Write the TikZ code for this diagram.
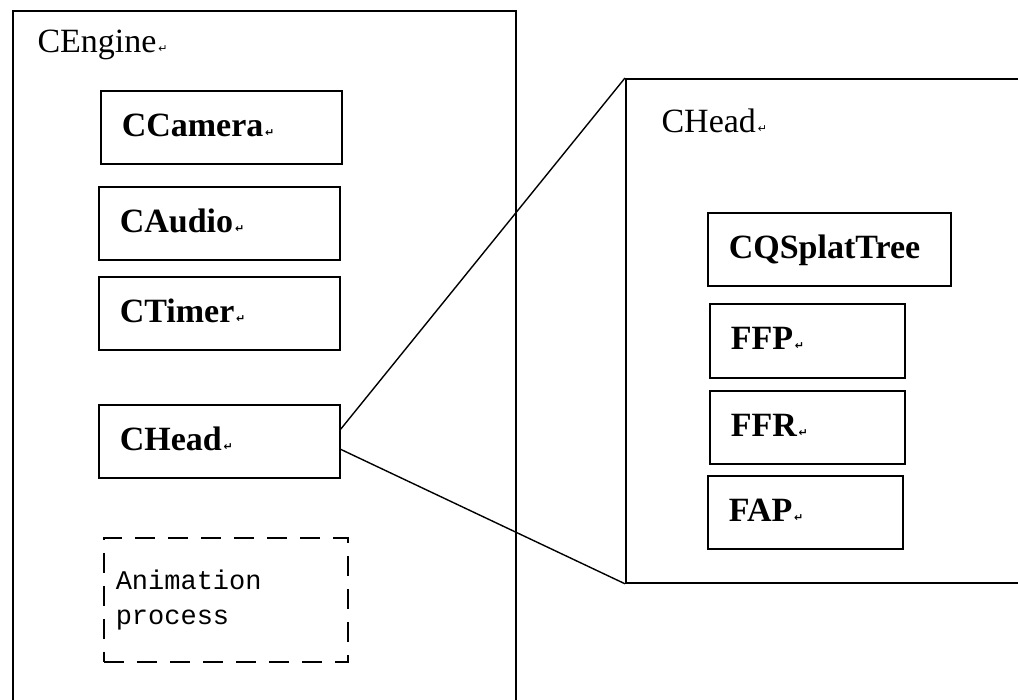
\documentclass[tikz,border=0pt]{standalone}
\usepackage{fontspec}
\setmainfont{Liberation Serif}
\setmonofont{Liberation Mono}
\newfontfamily\markfont{DejaVu Sans}
\newcommand{\parmark}{{\markfont\fontsize{11}{11}\selectfont\,↵}}
\tikzset{
  frame box/.style={draw=black, line width=1.8pt, anchor=north west,
    inner sep=0pt},
  class box/.style={draw=black, line width=1.6pt, anchor=north west,
    minimum height=73pt, inner xsep=21pt, align=left,
    text height=24pt, text depth=6pt,
    font=\fontsize{34}{40}\selectfont\bfseries},
  process box/.style={draw=black, line width=1.5pt,
    dash pattern=on 20pt off 13pt, anchor=north west,
    minimum width=244pt, minimum height=124pt, inner xsep=12pt,
    text width=220pt, align=left,
    font=\ttfamily\fontsize{27}{35}\selectfont},
  frame title/.style={anchor=base west, font=\fontsize{34}{40}\selectfont},
  zoom line/.style={draw=black, line width=1.4pt},
}

\begin{document}
\begin{tikzpicture}[x=1pt, y=-1pt]
  \useasboundingbox (0,0) rectangle (1018,700);
  \clip (0,0) rectangle (1018,700);

  % engine frame
  \node[frame box, minimum width=503pt, minimum height=730pt] (engine) at (12,10) {};
  \node[frame title] (enginetitle) at (34,53) {CEngine\parmark};
  \node[class box, text width=199pt] (camera) at (100,90) {CCamera\parmark};
  \node[class box, text width=199pt] (audio) at (98,186) {CAudio\parmark};
  \node[class box, text width=199pt] (timer) at (98,276) {CTimer\parmark};
  \node[class box, text width=199pt] (headsmall) at (98,404) {CHead\parmark};
  \node[process box] (animation) at (103,537) {Animation\\process};

  % head frame
  \node[frame box, minimum width=500pt, minimum height=504pt] (headbig) at (625,78) {};
  \node[frame title] (headtitle) at (658,133) {CHead\parmark};
  \node[class box, text width=201pt] (splattree) at (707,212) {CQSplatTree};
  \node[class box, text width=153pt, minimum height=74pt] (ffp) at (709,303) {FFP\parmark};
  \node[class box, text width=153pt] (ffr) at (709,390) {FFR\parmark};
  \node[class box, text width=153pt] (fap) at (707,475) {FAP\parmark};

  \draw[zoom line] ([yshift=12pt]headsmall.east) -- (headbig.north west);
  \draw[zoom line] ([yshift=-8pt]headsmall.east) -- (headbig.south west);
\end{tikzpicture}
\end{document}
